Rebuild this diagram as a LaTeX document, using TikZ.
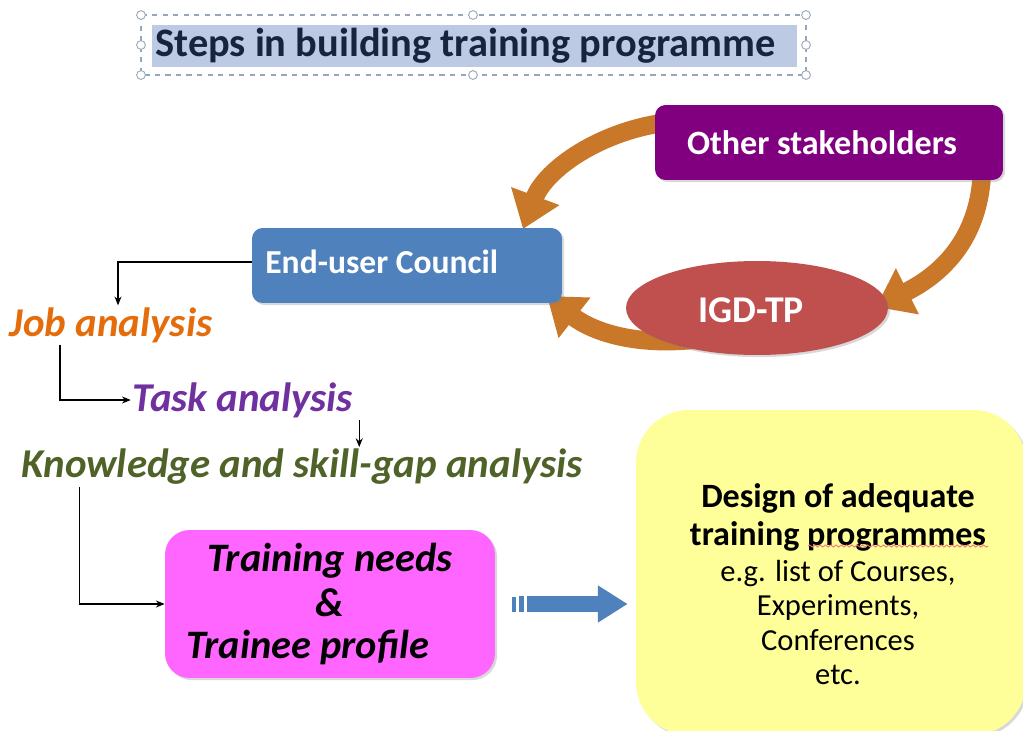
\documentclass[tikz,border=0pt]{standalone}
\usepackage{fontspec}
\setmainfont{Carlito}
\usetikzlibrary{arrows.meta,shapes.geometric,shadows,calc,decorations.pathmorphing}
\definecolor{titlefill}{RGB}{188,203,227}
\definecolor{titletext}{RGB}{23,36,64}
\definecolor{framecol}{RGB}{150,165,185}
\definecolor{purp}{RGB}{128,0,128}
\definecolor{bluebox}{RGB}{79,129,189}
\definecolor{redell}{RGB}{192,80,77}
\definecolor{orng}{RGB}{201,119,40}
\definecolor{jobcol}{RGB}{228,108,10}
\definecolor{taskcol}{RGB}{112,48,160}
\definecolor{knowcol}{RGB}{79,98,40}
\definecolor{magbox}{RGB}{255,102,255}
\definecolor{yelbox}{RGB}{255,255,153}
\definecolor{spellred}{RGB}{240,120,120}
\tikzset{
  shapebox/.style={rectangle, rounded corners=6pt, inner sep=0pt, drop shadow={opacity=0.3, shadow xshift=1.2pt, shadow yshift=-1.2pt}},
  whitebold/.style={text=white, font=\fontsize{19.3}{23}\selectfont\bfseries},
  stepitem/.style={font=\fontsize{23.3}{28}\selectfont\bfseries\itshape, inner sep=1pt},
  thinarrow/.style={draw=black, line width=0.6pt, -{Stealth[length=5pt,width=4pt]}},
  orangearrow/.style={draw=orng, line width=10.5pt, -{Triangle[length=20pt,width=28pt]}},
  handle/.style={circle, draw=framecol, fill=white, line width=0.5pt, inner sep=0pt, minimum size=5pt},
}
\begin{document}
\begin{tikzpicture}[x=0.02cm,y=-0.02cm]
\clip (0,0) rectangle (1023,730);
\fill[white] (0,0) rectangle (1023,730);

% title with selection frame
\node[fill=titlefill, minimum width=12.9cm, minimum height=0.84cm, inner sep=0pt] (title) at (474.5,46) {};
\node[anchor=west, inner sep=0pt, text=titletext, font=\fontsize{23}{27}\selectfont\bfseries] (titletext) at (155,46) {Steps in building training programme};
\draw[framecol, dashed, line width=0.7pt] (141,15) rectangle (806,75);
\foreach \p in {(141,15),(473,15),(806,15),(141,75),(473,75),(806,75),(141,45),(806,45)}
  \node[handle] at \p {};

% orange curved arrows (under the boxes)
\coordinate (o1s) at (670,122);
\coordinate (o2s) at (982,170);
\coordinate (o3s) at (725,335);
\draw[orangearrow] (o1s) .. controls (600,130) and (545,170) .. (523,229);
\draw[orangearrow] (o2s) .. controls (980,240) and (940,275) .. (876,307);
\draw[orangearrow] (o3s) .. controls (640,352) and (590,330) .. (547,296);

% boxes of the cycle
\node[shapebox, fill=purp, minimum width=6.96cm, minimum height=1.5cm] (other) at (829,142.5) {};
\node[whitebold, font=\fontsize{19.4}{23}\selectfont\bfseries] (othertext) at (822,143) {Other stakeholders};
\node[shapebox, fill=bluebox, minimum width=6.2cm, minimum height=1.5cm] (euc) at (407,265.5) {};
\node[whitebold, anchor=west, inner sep=0pt, font=\fontsize{19.1}{23}\selectfont\bfseries] (euctext) at (265,262) {End-user Council};
\node[ellipse, fill=redell, minimum width=5.24cm, minimum height=1.88cm, inner sep=0pt, drop shadow={opacity=0.3, shadow xshift=1.2pt, shadow yshift=-1.2pt}] (igd) at (757,308) {};
\node[whitebold, font=\fontsize{21.5}{25}\selectfont\bfseries] (igdtext) at (751,310) {IGD-TP};

% step items
\node[stepitem, text=jobcol] (job) at (111,325) {Job analysis};
\node[stepitem, text=taskcol] (task) at (243,400) {Task analysis};
\node[stepitem, text=knowcol] (know) at (302,467) {Knowledge and skill-gap analysis};

% training needs
\node[shapebox, rounded corners=14pt, fill=magbox, minimum width=6.6cm, minimum height=2.96cm, align=center, font=\fontsize{23}{26}\selectfont\bfseries\itshape] (tn) at (330,604) {Training needs\\\&\\[-2pt]\hspace*{-1.1em}Trainee profile};

% design box
\node[shapebox, rounded corners=30pt, fill=yelbox, minimum width=7.8cm, minimum height=6.5cm] (design) at (831,572.5) {};
\node[align=center, inner sep=0pt, font=\fontsize{17.4}{19.6}\selectfont] (designtext) at (838,584) {\fontsize{19.4}{22}\selectfont\bfseries Design of adequate\\[2pt]\fontsize{19.4}{22}\selectfont\bfseries training programmes\\[1pt]e.g. list of Courses,\\Experiments,\\Conferences\\etc.};
\draw[spellred, line width=0.5pt, decorate, decoration={snake, amplitude=0.6pt, segment length=3pt}] (808,546) -- (988,546);

% thin connectors
\draw[thinarrow] ([yshift=0.07cm]euc.west) -| ([xshift=0.14cm]job.north);
\draw[thinarrow] ([xshift=-1.02cm]job.south) |- (task.west);
\draw[thinarrow] ([xshift=0.08cm]task.south east) -- ([xshift=0.08cm]task.south east |- know.north);
\draw[thinarrow] ([xshift=1.2cm]know.south west) |- (tn.west);

% blue block arrow
\draw[bluebox, line width=9.5pt, -{Triangle[length=17pt,width=20pt]}, shorten <=0.64cm, shorten >=0.16cm] (tn.east) -- (tn.east -| design.west);
\fill[bluebox] ([xshift=0.34cm,yshift=0.15cm]tn.east) rectangle ([xshift=0.42cm,yshift=-0.15cm]tn.east);
\fill[bluebox] ([xshift=0.48cm,yshift=0.16cm]tn.east) rectangle ([xshift=0.58cm,yshift=-0.16cm]tn.east);
\end{tikzpicture}
\end{document}
